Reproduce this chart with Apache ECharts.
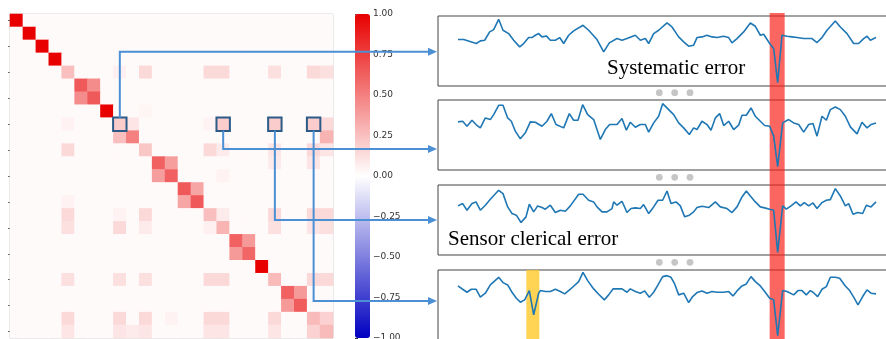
<!DOCTYPE html>
<html>
<head>
<meta charset="utf-8">
<script src="https://cdn.jsdelivr.net/npm/echarts@6/dist/echarts.min.js"></script>
<style>html,body{margin:0;padding:0;background:#fff}#main{width:886px;height:339px}</style>
</head>
<body>
<div id="main"></div>
<script>
var N = 25;
var baseCorr = 0.02;
// diagonal of the correlation matrix
var diag = [1, 1, 1, 1, 0.25, 0.65, 0.65, 1, 0.2, 0.5, 0.22, 0.62, 0.62, 0.65, 0.65, 0.25, 0.3, 0.62, 0.6, 1, 0.27, 0.62, 0.64, 0.27, 0.27];
// symmetric 2x2 blocks [i, j, value]
var blocks = [[5, 6, 0.45], [11, 12, 0.38], [13, 14, 0.35], [17, 18, 0.4], [21, 22, 0.4], [23, 24, 0.18]];
// other cells [row, col, value]
var extra = [
  [4, 8, 0.06], [4, 10, 0.15], [4, 15, 0.15], [4, 16, 0.15], [4, 20, 0.12], [4, 23, 0.15], [4, 24, 0.12],
  [7, 10, 0.04],
  [8, 4, 0.05], [8, 9, 0.1], [8, 15, 0.05], [8, 16, 0.2], [8, 20, 0.2], [8, 23, 0.2], [8, 24, 0.15],
  [9, 8, 0.25], [9, 24, 0.3],
  [10, 4, 0.15], [10, 15, 0.15], [10, 16, 0.08], [10, 20, 0.1], [10, 23, 0.15], [10, 24, 0.1],
  [11, 20, 0.08], [11, 23, 0.1], [12, 16, 0.05], [14, 4, 0.05],
  [15, 4, 0.15], [15, 8, 0.05], [15, 10, 0.15], [15, 16, 0.08], [15, 20, 0.15], [15, 23, 0.15], [15, 24, 0.15],
  [16, 4, 0.12], [16, 8, 0.15], [16, 10, 0.08], [16, 15, 0.06], [16, 20, 0.12], [16, 23, 0.1], [16, 24, 0.12],
  [20, 4, 0.12], [20, 8, 0.12], [20, 10, 0.12], [20, 15, 0.15], [20, 16, 0.15], [20, 23, 0.15], [20, 24, 0.15],
  [23, 4, 0.15], [23, 8, 0.15], [23, 10, 0.15], [23, 12, 0.05], [23, 15, 0.15], [23, 16, 0.15], [23, 20, 0.15],
  [24, 4, 0.1], [24, 8, 0.1], [24, 9, 0.08], [24, 10, 0.1], [24, 15, 0.1], [24, 16, 0.1], [24, 20, 0.1]
];
// highlighted cells [col, row]
var boxed = [[8, 8], [16, 8], [20, 8], [23, 8]];
var arrowLevels = [51.7, 149, 220, 301];

// sensor signals [t, value]
var sig1 = [[0,14.0],[1.7,14.0],[5.5,12.8],[6.7,13.6],[8.0,13.8],[9.5,16.3],[10.7,17.0],[12.2,20.1],[13.5,16.8],[15.2,15.8],[16.7,13.8],[18.5,11.8],[19.7,12.8],[21.2,14.6],[22.2,14.6],[23.2,15.3],[24.2,15.8],[25.2,14.8],[26.5,15.1],[27.7,13.8],[29.2,13.8],[30.5,14.6],[31.7,12.8],[33.2,15.3],[34.7,16.6],[37.5,18.3],[39.2,16.8],[41.7,14.0],[43.7,10.3],[45.4,13.0],[47.7,14.3],[49.2,13.8],[50.7,14.3],[53.2,15.3],[54.7,13.8],[56.2,14.3],[57.2,12.8],[58.7,15.8],[60.2,16.8],[62.7,19.0],[64.2,17.8],[66.2,14.8],[67.7,13.3],[69.2,12.0],[70.7,12.3],[71.7,14.6],[73.2,14.8],[74.7,15.3],[76.2,14.8],[77.7,14.6],[79.7,15.0],[81.2,14.6],[82.2,13.0],[83.7,14.3],[85.7,16.3],[87.7,19.0],[89.2,18.0],[90.7,15.3],[91.7,15.6],[93.5,12.8],[94.7,11.3],[95.9,1.0],[97.2,15.3],[98.7,15.0],[100.2,14.8],[101.7,14.6],[103.7,14.3],[106.2,14.3],[107.7,13.1],[109.2,14.6],[110.7,16.8],[113.2,19.6],[114.7,17.8],[116.7,15.8],[118.7,12.8],[120.2,12.8],[121.7,14.3],[122.7,15.0],[123.7,13.8],[125.4,14.6]];
var sig2 = [[0,14.5],[1.4,14.7],[2.7,13.2],[4.2,15.0],[5.4,13.7],[6.7,12.7],[8.2,15.7],[9.7,15.2],[10.7,16.7],[12.2,19.5],[13.5,19.5],[14.9,15.7],[16.0,14.7],[17.2,11.7],[18.7,9.4],[20.2,11.2],[21.7,14.5],[23.2,14.4],[25.2,13.2],[26.7,14.7],[28.0,17.0],[29.4,13.7],[31.7,12.7],[33.4,17.0],[34.7,15.0],[36.0,15.0],[37.4,19.7],[38.9,16.7],[40.7,15.2],[42.7,9.2],[44.2,12.2],[45.5,13.7],[47.7,13.7],[49.2,15.5],[50.5,12.0],[51.7,14.4],[53.2,12.9],[54.7,13.7],[56.2,13.7],[57.2,11.4],[58.7,14.2],[60.2,16.2],[61.4,20.0],[63.2,18.2],[64.7,16.7],[66.2,14.2],[67.7,12.7],[69.4,10.7],[70.7,12.7],[71.7,12.2],[73.2,14.7],[74.7,13.7],[75.9,12.0],[77.2,15.7],[78.5,17.0],[79.7,13.4],[81.2,14.7],[82.7,12.2],[84.2,13.5],[85.2,16.5],[86.5,16.5],[87.9,18.7],[89.2,16.2],[90.7,14.7],[92.0,13.4],[93.5,13.2],[94.7,10.2],[95.9,1.0],[97.4,14.2],[99.2,15.2],[100.7,14.2],[102.2,13.7],[103.7,11.4],[105.2,13.7],[106.5,14.0],[107.7,10.2],[109.2,16.2],[110.5,15.0],[111.7,18.2],[113.2,19.0],[114.7,18.2],[116.2,16.2],[117.7,13.0],[119.7,10.9],[121.2,14.4],[122.7,12.7],[123.9,13.7],[125.4,14.2]];
var sig3 = [[0,14.8],[1.4,15.5],[2.7,13.5],[4.2,15.5],[5.4,16.0],[6.7,13.5],[8.2,15.0],[9.7,16.8],[12.2,19.5],[13.5,18.5],[14.9,14.5],[16.2,12.5],[17.5,12.0],[18.9,9.8],[20.4,11.5],[21.4,15.3],[22.7,13.0],[23.9,14.8],[25.2,14.3],[26.2,13.8],[27.7,15.0],[29.2,12.8],[30.7,13.5],[32.2,13.2],[33.7,14.8],[36.2,18.3],[37.5,18.3],[39.2,16.5],[40.7,16.0],[41.7,14.5],[43.2,13.0],[44.7,13.0],[46.2,14.0],[46.7,16.0],[47.7,15.0],[49.2,16.2],[50.7,12.8],[51.9,14.0],[53.2,14.2],[54.7,14.0],[55.7,15.2],[57.2,12.5],[58.7,14.5],[60.0,16.5],[61.4,16.5],[62.7,19.3],[63.9,15.5],[65.4,16.0],[66.7,14.8],[68.0,11.5],[69.4,12.0],[70.7,13.0],[71.7,14.3],[73.2,14.7],[75.2,14.3],[77.2,16.0],[78.7,14.5],[80.7,14.0],[82.2,12.8],[83.7,14.5],[85.2,17.5],[86.5,19.3],[87.7,17.8],[89.2,16.0],[90.7,14.5],[92.0,14.2],[93.5,13.8],[94.7,13.5],[95.9,0.8],[97.4,14.8],[98.5,13.8],[99.9,14.8],[101.4,16.0],[102.7,14.8],[103.9,15.8],[105.2,14.8],[106.5,15.7],[107.7,14.0],[109.2,15.8],[110.5,16.5],[111.7,16.7],[113.2,20.0],[114.7,17.8],[116.2,14.8],[117.2,15.5],[118.5,12.3],[119.9,12.8],[121.4,12.5],[122.5,15.0],[123.9,14.5],[125.4,16.0]];
var sig4 = [[0,16.3],[1.4,15.3],[2.7,14.4],[4.0,15.3],[5.4,15.3],[6.7,12.9],[8.2,14.1],[9.7,16.6],[12.2,18.9],[13.5,17.3],[14.9,16.6],[16.2,14.4],[17.5,12.6],[18.7,11.4],[20.0,12.1],[21.4,14.9],[22.7,7.6],[24.2,14.1],[24.7,14.9],[26.2,14.6],[27.7,14.6],[29.2,15.3],[30.7,14.6],[32.0,13.9],[33.7,15.3],[36.2,17.6],[37.5,20.4],[38.9,17.9],[40.7,15.4],[42.2,13.8],[43.9,12.1],[45.2,13.6],[46.5,15.4],[47.7,15.4],[49.2,15.4],[50.7,14.4],[51.7,15.4],[53.2,14.6],[54.7,14.1],[56.0,14.8],[57.4,12.9],[58.7,14.4],[60.0,16.6],[61.4,19.1],[62.7,19.4],[63.9,18.9],[65.0,16.9],[66.2,13.6],[67.7,14.1],[69.2,11.3],[70.4,13.1],[71.7,14.3],[73.2,14.8],[74.7,14.1],[76.2,14.6],[77.7,14.4],[79.7,14.4],[81.2,14.6],[82.5,13.3],[83.7,14.8],[85.2,16.3],[86.5,16.9],[87.9,19.1],[89.2,17.6],[90.7,16.3],[92.0,14.6],[93.5,12.6],[94.7,12.1],[95.9,1.3],[97.4,14.9],[98.7,14.6],[100.7,13.6],[102.0,14.9],[103.2,14.9],[104.5,13.6],[105.7,14.9],[106.5,14.4],[107.9,13.1],[109.2,15.3],[110.5,16.1],[111.7,18.9],[113.2,18.9],[114.5,18.6],[116.2,16.3],[117.5,14.9],[118.7,12.9],[120.0,10.6],[121.4,13.1],[122.7,15.1],[123.9,14.1],[125.4,13.9]];
var redBand = [93.5, 98.0];
var yellowBand = [20.5, 24.4];

// build matrix
var m = [];
for (var r = 0; r < N; r++) { m.push([]); for (var c = 0; c < N; c++) m[r].push(baseCorr); }
diag.forEach(function (v, i) { m[i][i] = v; });
blocks.forEach(function (b) { m[b[0]][b[1]] = b[2]; m[b[1]][b[0]] = b[2]; });
extra.forEach(function (e) { m[e[0]][e[1]] = e[2]; });
var heatData = [];
for (var r = 0; r < N; r++) for (var c = 0; c < N; c++) heatData.push([c, r, m[r][c]]);
var boxData = boxed.map(function (b) { return [b[0], b[1], m[b[1]][b[0]]]; });
var cats = [];
for (var i = 0; i < N; i++) cats.push(String(i));

var panelTops = [16, 100, 185, 270];
var sigs = [sig1, sig2, sig3, sig4];
var tMin = -6, tMax = 135;

var grids = [
  { left: 10, top: 14, width: 323, height: 324, show: true, borderColor: '#cccccc', borderWidth: 1, outerBoundsMode: 'none' },
  { left: 355, top: 14, width: 15, height: 324, outerBoundsMode: 'none' }
];
var xAxes = [
  { type: 'category', data: cats, gridIndex: 0, axisLabel: { show: false }, axisTick: { show: false }, axisLine: { show: false }, splitLine: { show: false } },
  { type: 'value', gridIndex: 1, show: false, min: 0, max: 1 }
];
var yAxes = [
  { type: 'category', data: cats, gridIndex: 0, inverse: true, axisLabel: { show: false },
    axisTick: { show: true, alignWithLabel: true, length: 2, lineStyle: { color: '#666' } },
    axisLine: { show: true, lineStyle: { color: '#bbbbbb' } }, splitLine: { show: false } },
  { type: 'value', gridIndex: 1, min: -1, max: 1, interval: 0.25, position: 'right',
    axisLine: { show: false }, splitLine: { show: false },
    axisTick: { show: true, length: 3, lineStyle: { color: '#333' } },
    axisLabel: { margin: 3, fontSize: 9, fontFamily: 'DejaVu Sans', color: '#333',
      formatter: function (v) { return (v < 0 ? '\u2212' : '') + Math.abs(v).toFixed(2); } } }
];
var series = [
  { type: 'heatmap', xAxisIndex: 0, yAxisIndex: 0, data: heatData, silent: true, z: 2 },
  { type: 'heatmap', xAxisIndex: 0, yAxisIndex: 0, data: boxData, silent: true, z: 3,
    itemStyle: { borderColor: '#2c5b88', borderWidth: 2 } }
];
panelTops.forEach(function (t, k) {
  grids.push({ left: 438, top: t, width: 470, height: 70, show: true, borderColor: '#444', borderWidth: 1, outerBoundsMode: 'none' });
  xAxes.push({ type: 'value', gridIndex: k + 2, min: tMin, max: tMax, show: false });
  yAxes.push({ type: 'value', gridIndex: k + 2, min: 0, max: 21.1, show: false });
  series.push({ type: 'line', xAxisIndex: k + 2, yAxisIndex: k + 2, data: sigs[k], showSymbol: false,
    silent: true, z: 2, lineStyle: { color: '#1f77b4', width: 1.6 } });
});
// yellow band on the last panel
series.push({ type: 'line', xAxisIndex: 5, yAxisIndex: 5, data: [], z: 4,
  markArea: { silent: true, itemStyle: { color: 'rgba(255,200,40,0.8)' },
    data: [[{ xAxis: yellowBand[0] }, { xAxis: yellowBand[1] }]] } });
// red band across all panels
grids.push({ left: 438, top: 13, width: 470, height: 330, outerBoundsMode: 'none' });
xAxes.push({ type: 'value', gridIndex: 6, min: tMin, max: tMax, show: false });
yAxes.push({ type: 'value', gridIndex: 6, min: 0, max: 1, show: false });
series.push({ type: 'line', xAxisIndex: 6, yAxisIndex: 6, data: [], z: 4,
  markArea: { silent: true, itemStyle: { color: 'rgba(250,30,20,0.68)' },
    data: [[{ xAxis: redBand[0] }, { xAxis: redBand[1] }]] } });

var myChart = echarts.init(document.getElementById('main'));
option = {
  animation: false,
  grid: grids,
  xAxis: xAxes,
  yAxis: yAxes,
  visualMap: {
    type: 'continuous', min: -1, max: 1, seriesIndex: [0, 1], calculable: false,
    left: 355, top: 14, itemWidth: 15, itemHeight: 324, padding: 0,
    inRange: { color: ['#0000c0', '#ffffff', '#e80000'] }
  },
  series: series
};
myChart.setOption(option);

// annotations: arrows from highlighted cells to the panels
var g = [];
var blue = '#4b8fd5';
var half = (myChart.convertToPixel({ gridIndex: 0 }, [0, 1])[1] - myChart.convertToPixel({ gridIndex: 0 }, [0, 0])[1]) / 2;
boxed.forEach(function (b, k) {
  var p = myChart.convertToPixel({ gridIndex: 0 }, [b[0], b[1]]);
  var y0 = k === 0 ? p[1] - half : p[1] + half;
  var ly = arrowLevels[k];
  g.push({ type: 'polyline', z: 100, shape: { points: [[p[0], y0], [p[0], ly], [430, ly]] },
    style: { stroke: blue, lineWidth: 2, fill: null } });
  g.push({ type: 'polygon', z: 100, shape: { points: [[437, ly], [428, ly - 4], [428, ly + 4]] },
    style: { fill: blue } });
});
// gray dots between panels
[92.7, 177.3, 262.3].forEach(function (y) {
  [659.3, 674.7, 690].forEach(function (x) {
    g.push({ type: 'circle', z: 100, shape: { cx: x, cy: y, r: 3.4 }, style: { fill: '#c6c6c6' } });
  });
});
g.push({ type: 'text', z: 100, x: 607, y: 68, style: { text: 'Systematic error', font: '21px "Liberation Serif"', fill: '#000', align: 'left', verticalAlign: 'middle' } });
g.push({ type: 'text', z: 100, x: 448, y: 239, style: { text: 'Sensor clerical error', font: '21px "Liberation Serif"', fill: '#000', align: 'left', verticalAlign: 'middle' } });
myChart.setOption({ graphic: g });
</script>
</body>
</html>
